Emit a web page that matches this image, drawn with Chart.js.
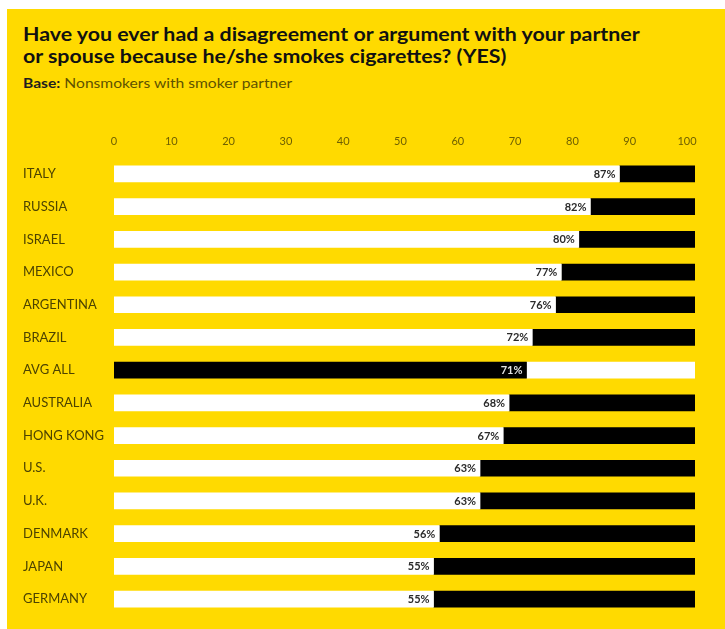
<!DOCTYPE html>
<html>
<head>
<meta charset="utf-8">
<script src="https://cdn.jsdelivr.net/npm/chart.js@4"></script>
<style>
html,body{margin:0;padding:0;background:#fff;width:725px;height:629px;overflow:hidden}
#panel{position:absolute;left:7px;top:9px;width:718px;height:620px;background:#FFDA00}
#title{position:absolute;left:23px;top:22.6px;margin:0;font:700 19px Lato,sans-serif;line-height:22px;color:#111;white-space:nowrap;transform:scaleX(1.124);transform-origin:0 0}
#sub{position:absolute;left:23px;top:74.4px;margin:0;font:400 14px Lato,sans-serif;line-height:17px;color:#5e5200;white-space:nowrap;transform:scaleX(1.116);transform-origin:0 0}
#sub b{color:#1e1e1e;font-weight:700}
canvas{position:absolute;left:0;top:0}
</style>
</head>
<body>
<div id="panel"></div>
<h1 id="title">Have you ever had a disagreement or argument with your partner<br>or spouse because he/she smokes cigarettes? (YES)</h1>
<p id="sub"><b>Base:</b> Nonsmokers with smoker partner</p>
<canvas id="c" width="725" height="629"></canvas>
<script>
const categories = ['ITALY','RUSSIA','ISRAEL','MEXICO','ARGENTINA','BRAZIL','AVG ALL','AUSTRALIA','HONG KONG','U.S.','U.K.','DENMARK','JAPAN','GERMANY'];
const yesValues = [87,82,80,77,76,72,71,68,67,63,63,56,55,55];
const noValues  = [13,18,20,23,24,28,29,32,33,37,37,44,45,45];
const tickValues = [0,10,20,30,40,50,60,70,80,90,100];
const highlightCategory = 'AVG ALL';

const yesColors = categories.map(c => c === highlightCategory ? '#000000' : '#ffffff');
const noColors  = categories.map(c => c === highlightCategory ? '#ffffff' : '#000000');

const valueLabels = {
  id: 'valueLabels',
  afterDatasetsDraw(chart) {
    const ctx = chart.ctx;
    const meta = chart.getDatasetMeta(0);
    ctx.save();
    ctx.font = '700 11px Lato, sans-serif';
    ctx.textAlign = 'right';
    ctx.textBaseline = 'middle';
    meta.data.forEach((bar, i) => {
      ctx.fillStyle = categories[i] === highlightCategory ? '#e2e2e2' : '#2a2a2a';
      ctx.fillText(yesValues[i] + '%', bar.x - 4, bar.y + 0.5);
    });
    ctx.restore();
  }
};

new Chart(document.getElementById('c'), {
  type: 'bar',
  data: {
    labels: categories,
    datasets: [
      { label: 'YES', data: yesValues, backgroundColor: yesColors, borderWidth: 0, barThickness: 16 },
      { label: 'NO',  data: noValues,  backgroundColor: noColors,  borderWidth: 0, barThickness: 16 }
    ]
  },
  options: {
    indexAxis: 'y',
    responsive: false,
    animation: false,
    events: [],
    layout: { padding: { left: 23, right: 30, top: 124.4, bottom: 13.6 } },
    plugins: { legend: { display: false }, tooltip: { enabled: false }, title: { display: false } },
    scales: {
      x: { stacked: true, min: 0, max: 100, display: false },
      x2: {
        type: 'linear', position: 'top', min: 0, max: 101.4,
        grid: { display: false, drawTicks: false },
        border: { display: false },
        afterBuildTicks: s => { s.ticks = tickValues.map(v => ({ value: v })); },
        ticks: { padding: 10, color: '#6e5f00', font: { family: 'Lato', size: 11 }, maxRotation: 0, autoSkip: false }
      },
      y: {
        stacked: true,
        grid: { display: false, drawTicks: false },
        border: { display: false },
        afterFit: s => { s.width = 91; },
        ticks: { crossAlign: 'far', color: '#4d4300', font: { family: 'Lato', size: 13 }, autoSkip: false }
      }
    }
  },
  plugins: [valueLabels]
});
</script>
</body>
</html>
